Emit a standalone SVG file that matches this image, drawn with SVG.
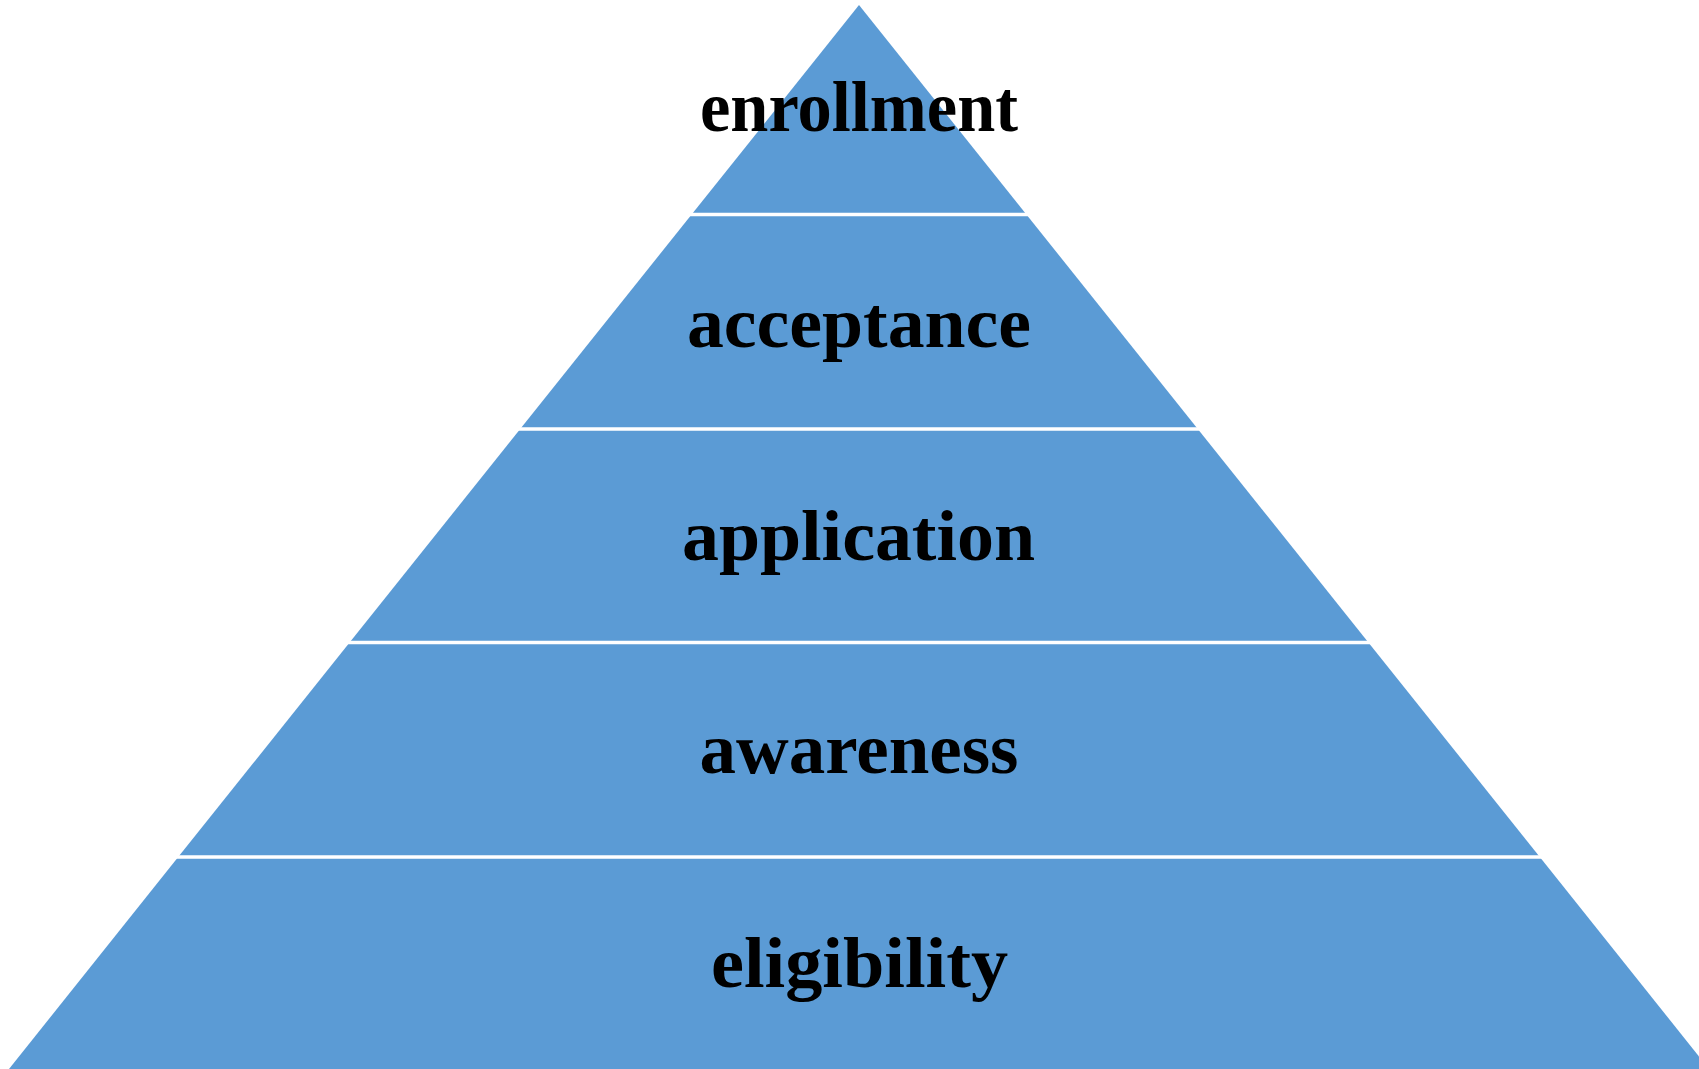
<svg xmlns="http://www.w3.org/2000/svg" width="1699" height="1069" viewBox="0 0 1699 1069">
  <style>
    .band { fill: #5B9BD5; stroke: none; }
    .label { font-family: "Liberation Serif", "Times New Roman", serif; font-weight: bold; font-size: 72px; fill: #000000; text-anchor: middle; }
    .divider { stroke: #FFFFFF; stroke-width: 3.5; fill: none; }
  </style>
  <rect x="0" y="0" width="1699" height="1069" fill="#FFFFFF"/>

  <!-- pyramid tiers, top to bottom -->
  <g id="tier-enrollment">
    <polygon class="band" points="859,5 1026.4,214.5 691.6,214.5"/>
    <text class="label" x="859" y="131" textLength="318" lengthAdjust="spacingAndGlyphs">enrollment</text>
  </g>
  <g id="tier-acceptance">
    <polygon class="band" points="691.6,214.5 1026.4,214.5 1197.8,429 520.2,429"/>
    <text class="label" x="859" y="347" textLength="344" lengthAdjust="spacingAndGlyphs">acceptance</text>
  </g>
  <g id="tier-application">
    <polygon class="band" points="520.2,429 1197.8,429 1368.4,642.5 349.6,642.5"/>
    <text class="label" x="858.5" y="560" textLength="353" lengthAdjust="spacingAndGlyphs">application</text>
  </g>
  <g id="tier-awareness">
    <polygon class="band" points="349.6,642.5 1368.4,642.5 1539.8,857 178.2,857"/>
    <text class="label" x="859" y="772.5" textLength="319" lengthAdjust="spacingAndGlyphs">awareness</text>
  </g>
  <g id="tier-eligibility">
    <polygon class="band" points="178.2,857 1539.8,857 1709,1069 9,1069"/>
    <text class="label" x="859.5" y="987" textLength="297" lengthAdjust="spacingAndGlyphs">eligibility</text>
  </g>

  <!-- white gaps between tiers -->
  <g id="dividers">
    <line class="divider" x1="680" y1="214.5" x2="1040" y2="214.5"/>
    <line class="divider" x1="505" y1="429" x2="1212" y2="429"/>
    <line class="divider" x1="335" y1="642.5" x2="1383" y2="642.5"/>
    <line class="divider" x1="165" y1="857" x2="1553" y2="857"/>
  </g>
</svg>
